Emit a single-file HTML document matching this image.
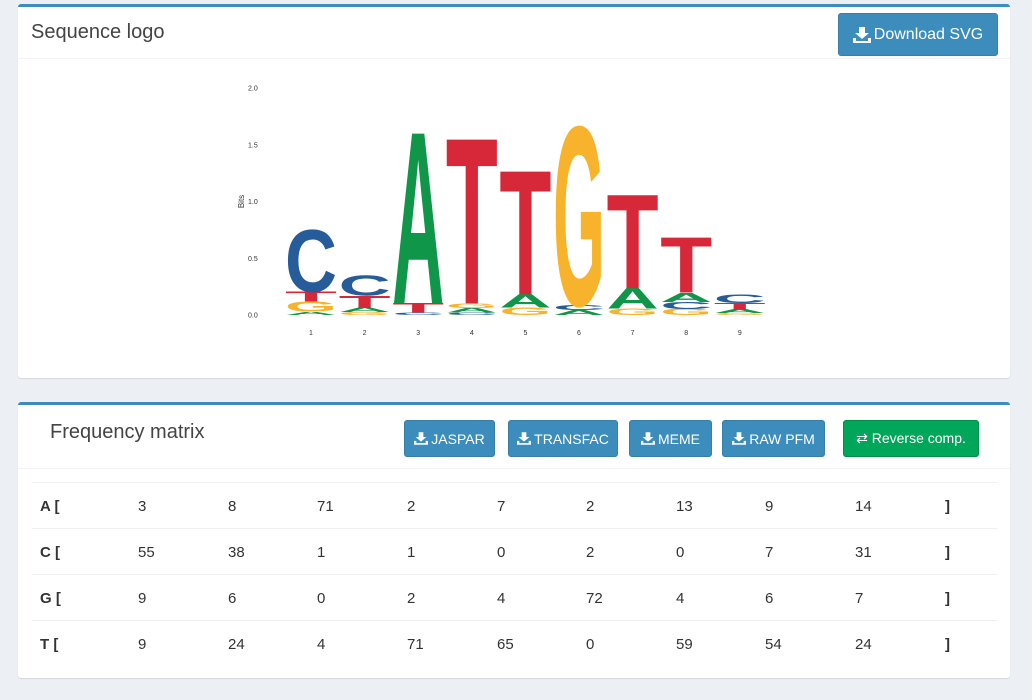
<!DOCTYPE html>
<html><head><meta charset="utf-8">
<style>
body{margin:0;width:1032px;height:700px;background:#ecf0f5;font-family:"Liberation Sans",sans-serif;position:relative;overflow:hidden;color:#333}
.panel{position:absolute;left:18px;width:992px;background:#fff;border-top:3px solid #3c8dbc;border-radius:3px;box-shadow:0 1px 1px rgba(0,0,0,.1)}
.btn{position:absolute;background:#3c8dbc;border:1px solid #367fa9;border-radius:3px;color:#fff;font-size:14px;display:flex;align-items:center;justify-content:center;box-sizing:border-box}
.btn svg{margin-right:3px}
.cell{position:absolute;font-size:15px}
.line{position:absolute;left:14px;width:965px;height:1px;background:#f0f0f0}
</style></head><body>
<div class="panel" style="top:4px;height:371px">
  <div style="position:absolute;left:13px;top:14px;font-size:20px;color:#444">Sequence logo</div>
  <div style="position:absolute;left:0;top:51px;width:992px;height:1px;background:#f4f4f4"></div>
  <div class="btn" style="left:820px;top:6px;width:160px;height:43px;font-size:16px"><svg width="18" height="16" viewBox="0 0 18 16"><path d="M6 0h6v6h4l-7 6-7-6h4z M0 11h3v3h12v-3h3v5H0z" fill="#fff"/></svg>Download SVG</div>
  <svg id="logo" width="992" height="310" style="position:absolute;left:0;top:55px"></svg>
</div>
<div class="panel" style="top:402px;height:273px">
  <div style="position:absolute;left:32px;top:16px;font-size:20px;color:#444">Frequency matrix</div>
  <div style="position:absolute;left:0;top:63px;width:992px;height:1px;background:#f4f4f4"></div>
  <div class="btn" style="left:386px;top:15px;width:91px;height:37px"><svg width="14" height="13" viewBox="0 0 18 16"><path d="M6 0h6v6h4l-7 6-7-6h4z M0 11h3v3h12v-3h3v5H0z" fill="#fff"/></svg>JASPAR</div>
  <div class="btn" style="left:490px;top:15px;width:110px;height:37px"><svg width="14" height="13" viewBox="0 0 18 16"><path d="M6 0h6v6h4l-7 6-7-6h4z M0 11h3v3h12v-3h3v5H0z" fill="#fff"/></svg>TRANSFAC</div>
  <div class="btn" style="left:611px;top:15px;width:83px;height:37px"><svg width="14" height="13" viewBox="0 0 18 16"><path d="M6 0h6v6h4l-7 6-7-6h4z M0 11h3v3h12v-3h3v5H0z" fill="#fff"/></svg>MEME</div>
  <div class="btn" style="left:704px;top:15px;width:103px;height:37px"><svg width="14" height="13" viewBox="0 0 18 16"><path d="M6 0h6v6h4l-7 6-7-6h4z M0 11h3v3h12v-3h3v5H0z" fill="#fff"/></svg>RAW PFM</div>
  <div class="btn" style="left:825px;top:15px;width:136px;height:37px;background:#00a65a;border-color:#008d4c">⇄&nbsp;Reverse comp.</div>
  <div id="table"></div>
</div>
<script>
const bases=['A','C','G','T'];
const countsA=[3,8,71,2,7,2,13,9,14];
const countsC=[55,38,1,1,0,2,0,7,31];
const countsG=[9,6,0,2,4,72,4,6,7];
const countsT=[9,24,4,71,65,0,59,54,24];
const positions=['1','2','3','4','5','6','7','8','9'];
const yTicks=[0,0.5,1,1.5,2];
const colors={A:'#109648',C:'#255c99',G:'#f7b32b',T:'#d62839'};
const rows=[countsA,countsC,countsG,countsT];
const NS='http://www.w3.org/2000/svg';
const svg=document.getElementById('logo');
const off=62;
const yS=v=>315-off-v*113.5;
const xS=i=>311+i*53.6-18;
yTicks.forEach(t=>{
  const tx=document.createElementNS(NS,'text');
  
  
  tx.setAttribute('x',248-18);tx.setAttribute('y',yS(t)+2.5);
  tx.setAttribute('font-size','7');tx.setAttribute('fill','#333');
  tx.textContent=t.toFixed(1);svg.appendChild(tx);
});
const yl=document.createElementNS(NS,'text');


yl.setAttribute('transform',`translate(${244-18},${yS(1)}) rotate(-90)`);
yl.setAttribute('font-size','8');yl.setAttribute('text-anchor','middle');yl.setAttribute('fill','#333');
yl.textContent='Bits';svg.appendChild(yl);
positions.forEach((p,i)=>{
  const tx=document.createElementNS(NS,'text');
  
  
  tx.setAttribute('x',xS(i));tx.setAttribute('y',yS(0)+20);
  tx.setAttribute('font-size','7');tx.setAttribute('text-anchor','middle');tx.setAttribute('fill','#333');
  tx.textContent=p;svg.appendChild(tx);
  const c=rows.map(r=>r[i]);const n=c.reduce((a,b)=>a+b,0);
  const pr=c.map(v=>v/n);
  let H=0;pr.forEach(q=>{if(q>0)H-=q*Math.log2(q);});
  const ic=2-H;
  const items=bases.map((b,k)=>({b,h:pr[k]*ic})).sort((a,b)=>a.h-b.h);
  let cum=0;const w=52;
  items.forEach(it=>{
    if(it.h<=0.001){return;}
    const bot=yS(cum),hpx=it.h*113.5;cum+=it.h;
    const t=document.createElementNS(NS,'text');
    
    
    t.setAttribute('x',0);t.setAttribute('y',0);
    t.setAttribute('font-size','100');t.setAttribute('font-weight','bold');
    t.setAttribute('font-family','Liberation Sans, sans-serif');
    t.setAttribute('textLength',w);t.setAttribute('lengthAdjust','spacingAndGlyphs');
    t.setAttribute('fill',colors[it.b]);
    const sy=hpx/69;
    t.setAttribute('transform',`translate(${xS(i)-w/2},${bot}) scale(1,${sy})`);
    t.textContent=it.b;svg.appendChild(t);
  });
});
const tbl=document.getElementById('table');
const colX=[120,210,299,389,479,568,658,747,837];
for(let r=0;r<4;r++){
  const ln=document.createElement('div');ln.className='line';ln.style.top=(77+r*46)+'px';
  
  
  tbl.appendChild(ln);
  const ty=93+r*46;
  const lb=document.createElement('div');lb.className='cell';
  
  
  lb.style.left='22px';lb.style.top=ty+'px';lb.style.fontWeight='bold';lb.textContent=bases[r]+' [';tbl.appendChild(lb);
  rows[r].forEach((v,i)=>{
    const c=document.createElement('div');c.className='cell';
    
    
    c.style.left=colX[i]+'px';c.style.top=ty+'px';c.textContent=v;tbl.appendChild(c);
  });
  const br=document.createElement('div');br.className='cell';
  
  
  br.style.left='927px';br.style.top=ty+'px';br.style.fontWeight='bold';br.textContent=']';tbl.appendChild(br);
}
</script>
</body></html>
